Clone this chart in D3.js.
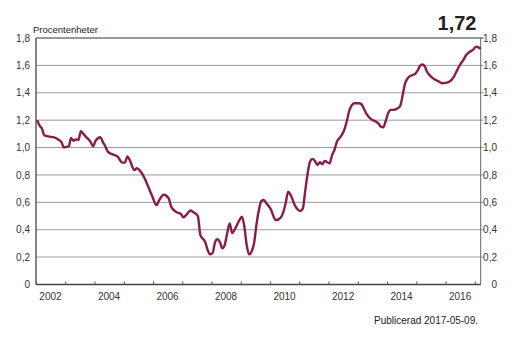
<!DOCTYPE html>
<html>
<head>
<meta charset="utf-8">
<script src="https://cdn.jsdelivr.net/npm/d3@7/dist/d3.min.js"></script>
<style>
  html, body { margin: 0; padding: 0; background: #fff; }
  svg { display: block; font-family: "Liberation Sans", Arial, sans-serif; }
</style>
</head>
<body>
<svg id="chart" width="518" height="340"></svg>
<script>
// Monthly observations (procentenheter)
const months = [
  "2002-01","2002-02","2002-03","2002-04","2002-06","2002-08","2002-10","2002-11","2002-12",
  "2003-01","2003-02","2003-03","2003-04","2003-05","2003-06","2003-07","2003-08","2003-09","2003-11","2003-12",
  "2004-01","2004-03","2004-04","2004-05","2004-06","2004-08","2004-10","2004-12",
  "2005-01","2005-02","2005-03","2005-05","2005-06","2005-07","2005-09","2005-10","2005-12",
  "2006-02","2006-03","2006-04","2006-05","2006-07","2006-08","2006-10","2006-12",
  "2007-01","2007-02","2007-04","2007-05","2007-07","2007-08","2007-10","2007-11","2007-12",
  "2008-01","2008-02","2008-03","2008-04","2008-05","2008-06","2008-07","2008-08","2008-09","2008-10","2008-12",
  "2009-01","2009-02","2009-03","2009-04","2009-05","2009-06","2009-07","2009-08","2009-09","2009-10","2009-11",
  "2010-01","2010-02","2010-03","2010-05","2010-06","2010-07","2010-08","2010-09","2010-11",
  "2011-01","2011-02","2011-03","2011-04","2011-05","2011-06","2011-07","2011-08","2011-09","2011-10","2011-11",
  "2012-01","2012-02","2012-03","2012-04","2012-05","2012-06","2012-07","2012-08","2012-09","2012-10","2012-11",
  "2013-01","2013-02","2013-03","2013-04","2013-06","2013-08","2013-09","2013-10","2013-11","2013-12",
  "2014-01","2014-02","2014-03","2014-05","2014-06","2014-07","2014-08","2014-09","2014-11","2014-12",
  "2015-01","2015-02","2015-03","2015-04","2015-05","2015-07","2015-08","2015-10","2015-11",
  "2016-01","2016-02","2016-04","2016-05","2016-06","2016-08","2016-09","2016-10","2016-12",
  "2017-01","2017-02","2017-03"
];
const values = [
  1.20,1.16,1.14,1.09,1.08,1.075,1.055,1.04,1.00,
  1.005,1.01,1.07,1.05,1.06,1.055,1.12,1.10,1.08,1.04,1.01,
  1.05,1.075,1.04,1.01,0.97,0.95,0.935,0.89,
  0.89,0.935,0.91,0.835,0.85,0.835,0.78,0.74,0.655,
  0.58,0.61,0.64,0.655,0.63,0.57,0.53,0.515,
  0.49,0.505,0.54,0.53,0.50,0.36,0.31,0.25,0.22,
  0.23,0.31,0.33,0.31,0.265,0.29,0.375,0.445,0.375,0.40,0.47,
  0.495,0.42,0.29,0.22,0.24,0.30,0.435,0.544,0.61,0.617,0.593,
  0.544,0.495,0.47,0.488,0.527,0.593,0.678,0.654,0.568,
  0.537,0.556,0.678,0.81,0.897,0.917,0.902,0.873,0.893,0.878,0.902,
  0.885,0.946,0.982,1.043,1.068,1.092,1.128,1.19,1.267,1.306,1.323,
  1.323,1.316,1.287,1.25,1.208,1.19,1.177,1.153,1.148,1.194,
  1.25,1.275,1.275,1.287,1.305,1.384,1.47,1.506,1.53,1.537,
  1.56,1.595,1.607,1.595,1.553,1.513,1.499,1.48,1.47,
  1.474,1.48,1.518,1.553,1.59,1.644,1.676,1.693,1.717,
  1.737,1.732,1.72
];
const yTicks = [0, 0.2, 0.4, 0.6, 0.8, 1.0, 1.2, 1.4, 1.6, 1.8];
const yearLabels = [2002, 2004, 2006, 2008, 2010, 2012, 2014, 2016];
const unitLabel = "Procentenheter";
const latestLabel = "1,72";
const footnote = "Publicerad 2017-05-09.";

const svg = d3.select("#chart");
const plotLeft = 36, plotRight = 480.7, plotTop = 38, plotBottom = 284.5;
const parseMonth = d3.timeParse("%Y-%m");
const data = months.map((m, i) => ({ date: d3.timeDay.offset(parseMonth(m), 14), value: values[i] }));

const x = d3.scaleTime()
  .domain([new Date(2002, 0, 1), new Date(2017, 2, 15)])
  .range([plotLeft, plotRight]);
const y = d3.scaleLinear().domain([0, 1.8]).range([plotBottom, plotTop]);
const tickText = v => v === 0 ? "0" : d3.format(".1f")(v).replace(".", ",");
const isLow = v => Math.abs(v - 0.2) < 1e-9;

// Horizontal gridlines, extending into the right-hand tick marks
svg.append("g").selectAll("line")
  .data(yTicks.filter(v => v > 0 && v < 1.8))
  .join("line")
  .attr("x1", plotLeft).attr("x2", plotRight + 3)
  .attr("y1", d => y(d)).attr("y2", d => y(d))
  .attr("stroke", d => isLow(d) ? "#cfcfcf" : "#9a9a9a")
  .attr("stroke-width", d => isLow(d) ? 2 : 1);

// Top frame line
svg.append("line")
  .attr("x1", plotLeft).attr("x2", plotRight + 3)
  .attr("y1", y(1.8)).attr("y2", y(1.8))
  .attr("stroke", "#777").attr("stroke-width", 1.5);

// Right axis line
svg.append("line")
  .attr("x1", plotRight).attr("x2", plotRight)
  .attr("y1", y(1.8)).attr("y2", y(0))
  .attr("stroke", "#666").attr("stroke-width", 1);

// Left axis line
svg.append("line")
  .attr("x1", plotLeft).attr("x2", plotLeft)
  .attr("y1", y(1.8)).attr("y2", y(0))
  .attr("stroke", "#444").attr("stroke-width", 1.3);

// Bottom axis with yearly tick marks pointing inward
const xAxis = d3.axisBottom(x)
  .tickValues(d3.timeYear.range(new Date(2002, 0, 1), new Date(2017, 1, 1)))
  .tickSizeInner(-3).tickSizeOuter(0).tickFormat("");
const gx = svg.append("g").attr("transform", `translate(0,${y(0)})`).call(xAxis);
gx.select(".domain").attr("stroke", "#444").attr("stroke-width", 1.3).attr("d", `M${plotLeft},0H${plotRight}`);
gx.selectAll(".tick line").attr("stroke", "#555");

// Year labels centred within each year
svg.append("g").selectAll("text")
  .data(yearLabels)
  .join("text")
  .attr("x", d => x(new Date(d, 6, 1)))
  .attr("y", 300)
  .attr("text-anchor", "middle")
  .attr("font-size", 10)
  .attr("fill", "#333")
  .text(d => d);

// Left tick labels
svg.append("g").selectAll("text")
  .data(yTicks)
  .join("text")
  .attr("x", 30)
  .attr("y", d => y(d) + 3.6)
  .attr("text-anchor", "end")
  .attr("font-size", 10)
  .attr("fill", "#333")
  .text(tickText);

// Right tick labels
svg.append("g").selectAll("text")
  .data(yTicks)
  .join("text")
  .attr("x", 497)
  .attr("y", d => y(d) + 3.6)
  .attr("text-anchor", "end")
  .attr("font-size", 10)
  .attr("fill", "#333")
  .text(tickText);

// Series line
const line = d3.line()
  .x(d => x(d.date))
  .y(d => y(d.value))
  .curve(d3.curveMonotoneX);
svg.append("path")
  .datum(data)
  .attr("fill", "none")
  .attr("stroke", "#8a1c4c")
  .attr("stroke-width", 2.4)
  .attr("stroke-linejoin", "round")
  .attr("d", line);

// Unit label
svg.append("text")
  .attr("x", 33).attr("y", 32.5)
  .attr("font-size", 9.5)
  .attr("fill", "#222")
  .text(unitLabel);

// Latest value
svg.append("text")
  .attr("x", 476.5).attr("y", 29.5)
  .attr("text-anchor", "end")
  .attr("font-size", 20)
  .attr("font-weight", "bold")
  .attr("fill", "#222")
  .text(latestLabel);

// Publication note
svg.append("text")
  .attr("x", 478).attr("y", 324)
  .attr("text-anchor", "end")
  .attr("font-size", 10)
  .attr("fill", "#222")
  .text(footnote);
</script>
</body>
</html>
